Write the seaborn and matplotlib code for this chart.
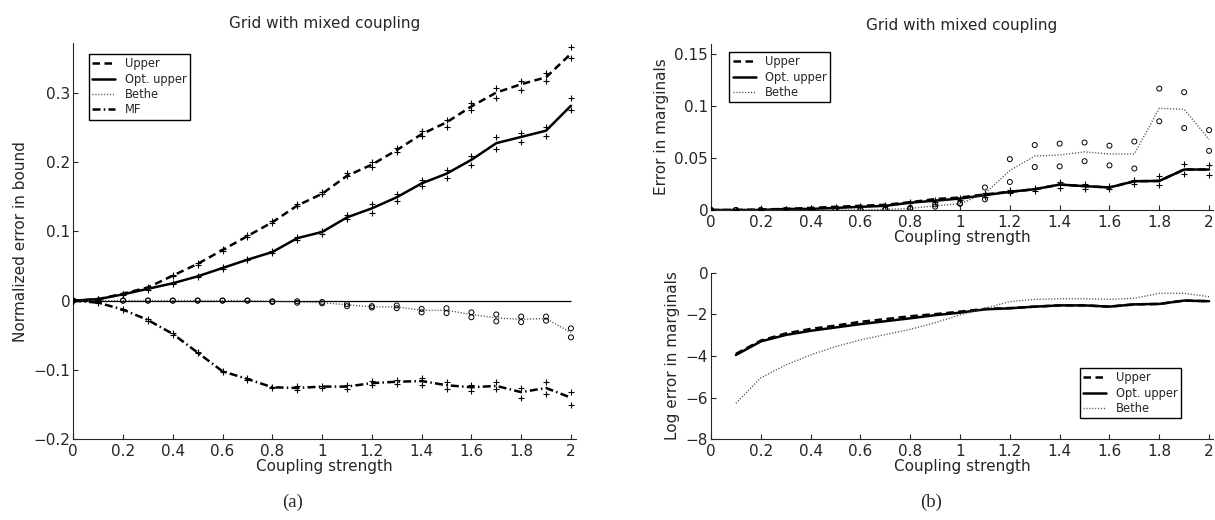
import matplotlib
matplotlib.use("Agg")
import matplotlib.pyplot as plt
import seaborn as sns

# coupling strengths (x axis)
coupling = [0.0, 0.1, 0.2, 0.3, 0.4, 0.5, 0.6, 0.7, 0.8, 0.9, 1.0,
            1.1, 1.2, 1.3, 1.4, 1.5, 1.6, 1.7, 1.8, 1.9, 2.0]
xtick_labels = ["0", "0.2", "0.4", "0.6", "0.8", "1", "1.2", "1.4", "1.6", "1.8", "2"]

# (a) normalized error in bound: line value + two runs (markers)
upper_line = [0, 0.002, 0.010, 0.019, 0.036, 0.053, 0.073, 0.093, 0.113, 0.137, 0.154,
              0.180, 0.196, 0.217, 0.240, 0.257, 0.280, 0.300, 0.312, 0.322, 0.356]
upper_hi = [0, 0.002, 0.010, 0.020, 0.037, 0.054, 0.074, 0.095, 0.115, 0.139, 0.156,
            0.184, 0.200, 0.220, 0.244, 0.260, 0.285, 0.307, 0.316, 0.328, 0.366]
upper_lo = [0, 0.001, 0.009, 0.018, 0.035, 0.052, 0.072, 0.092, 0.112, 0.136, 0.153,
            0.179, 0.192, 0.214, 0.237, 0.251, 0.275, 0.292, 0.304, 0.316, 0.350]

opt_line = [0, 0.002, 0.009, 0.017, 0.025, 0.035, 0.047, 0.059, 0.070, 0.090, 0.099,
            0.120, 0.133, 0.149, 0.169, 0.183, 0.203, 0.227, 0.236, 0.245, 0.281]
opt_hi = [0, 0.003, 0.010, 0.018, 0.026, 0.036, 0.048, 0.060, 0.072, 0.092, 0.101,
          0.123, 0.139, 0.153, 0.174, 0.188, 0.208, 0.236, 0.241, 0.251, 0.292]
opt_lo = [0, 0.001, 0.008, 0.016, 0.024, 0.034, 0.046, 0.058, 0.069, 0.088, 0.096,
          0.118, 0.127, 0.144, 0.165, 0.177, 0.196, 0.219, 0.228, 0.237, 0.275]

bethe_line = [0, 0, 0, 0, 0, 0, 0, 0, -0.001, -0.002, -0.003,
              -0.006, -0.009, -0.009, -0.014, -0.014, -0.020, -0.025, -0.027, -0.026, -0.046]
bethe_hi = [0, 0, 0, 0, 0, 0, 0, 0, -0.001, -0.001, -0.002,
            -0.005, -0.008, -0.007, -0.012, -0.011, -0.017, -0.020, -0.023, -0.023, -0.040]
bethe_lo = [0, 0, 0, 0, 0, 0, 0, 0, -0.002, -0.003, -0.004,
            -0.008, -0.010, -0.011, -0.017, -0.018, -0.024, -0.030, -0.031, -0.029, -0.053]

mf_line = [0, -0.003, -0.013, -0.028, -0.048, -0.075, -0.102, -0.113, -0.125, -0.126, -0.124,
           -0.124, -0.119, -0.117, -0.116, -0.122, -0.125, -0.123, -0.132, -0.126, -0.140]
mf_hi = [0, -0.002, -0.012, -0.027, -0.047, -0.074, -0.101, -0.112, -0.124, -0.123, -0.123,
         -0.122, -0.116, -0.115, -0.112, -0.118, -0.122, -0.118, -0.126, -0.118, -0.132]
mf_lo = [0, -0.004, -0.014, -0.029, -0.049, -0.076, -0.103, -0.115, -0.126, -0.129, -0.126,
         -0.127, -0.122, -0.120, -0.121, -0.127, -0.131, -0.128, -0.140, -0.134, -0.150]

# (b) top: error in marginals
marg_upper = [0, 0, 0.0005, 0.001, 0.002, 0.003, 0.004, 0.005, 0.0075, 0.0105, 0.012,
              0.015, 0.0175, 0.020, 0.0245, 0.023, 0.0217, 0.0277, 0.028, 0.039, 0.039]
marg_opt = [0, 0, 0, 0.001, 0.001, 0.002, 0.003, 0.004, 0.007, 0.009, 0.011,
            0.0143, 0.0175, 0.020, 0.0245, 0.023, 0.0217, 0.0277, 0.028, 0.039, 0.039]
marg_opt_hi = [0, 0, 0.0005, 0.001, 0.0015, 0.0025, 0.0035, 0.005, 0.008, 0.010, 0.012,
               0.0166, 0.019, 0.021, 0.027, 0.025, 0.023, 0.029, 0.0328, 0.044, 0.043]
marg_opt_lo = [0, 0, 0, 0.0005, 0.001, 0.0015, 0.0025, 0.0035, 0.0064, 0.008, 0.010,
               0.0127, 0.016, 0.018, 0.0214, 0.0207, 0.0198, 0.025, 0.0239, 0.0344, 0.034]
marg_bethe = [0, 0, 0, 0, 0, 0, 0, 0.0005, 0.0015, 0.004, 0.006,
              0.016, 0.038, 0.052, 0.053, 0.056, 0.054, 0.054, 0.098, 0.097, 0.068]
marg_bethe_hi = [0, 0, 0, 0, 0, 0, 0, 0.0008, 0.002, 0.0054, 0.0065,
                 0.0217, 0.049, 0.0626, 0.064, 0.065, 0.062, 0.066, 0.117, 0.1135, 0.077]
marg_bethe_lo = [0, 0, 0, 0, 0, 0, 0, 0.0003, 0.001, 0.0032, 0.006,
                 0.0102, 0.027, 0.0414, 0.042, 0.047, 0.043, 0.040, 0.0855, 0.079, 0.057]

# (b) bottom: log error in marginals (starts at 0.1)
log_coupling = coupling[1:]
log_upper = [-3.90, -3.26, -2.92, -2.70, -2.54, -2.36, -2.23, -2.09, -1.99, -1.87,
             -1.74, -1.70, -1.63, -1.57, -1.57, -1.63, -1.52, -1.50, -1.34, -1.37]
log_opt = [-3.95, -3.30, -2.99, -2.79, -2.63, -2.47, -2.33, -2.19, -2.04, -1.92,
           -1.76, -1.71, -1.63, -1.57, -1.57, -1.63, -1.52, -1.50, -1.34, -1.37]
log_bethe = [-6.27, -5.05, -4.43, -3.95, -3.55, -3.23, -2.97, -2.72, -2.40, -2.03,
             -1.71, -1.39, -1.28, -1.25, -1.25, -1.28, -1.23, -0.99, -0.99, -1.15]

sns.set_style("ticks")
plt.rcParams["font.family"] = ["DejaVu Sans"]
plt.rcParams["axes.linewidth"] = 0.8

DASHED = dict(color="black", lw=1.8, linestyle=(0, (3.0, 1.8)))
SOLID = dict(color="black", lw=1.8, linestyle="-")
DOTTED = dict(color="0.3", lw=1.0, linestyle=(0, (0.8, 1.3)))
DASHDOT = dict(color="black", lw=1.8, linestyle=(0, (3.2, 1.3, 0.6, 1.3)))

fig = plt.figure(figsize=(12.15, 5.2), dpi=100)
ax_a = fig.add_axes([0.0603, 0.1552, 0.4137, 0.7615])
ax_top = fig.add_axes([0.5852, 0.5962, 0.4132, 0.3192])
ax_log = fig.add_axes([0.5852, 0.1552, 0.4132, 0.3204])


def line(ax, x, y, style, label=None):
    sns.lineplot(x=x, y=y, ax=ax, estimator=None, label=label, **style)


def plus(ax, y):
    sns.scatterplot(x=coupling, y=y, ax=ax, marker="+", s=18, color="black",
                    linewidth=0.8, zorder=4)


def circ(ax, y):
    sns.scatterplot(x=coupling, y=y, ax=ax, marker="o", s=13, color="black",
                    facecolors="none", edgecolor="black", linewidth=0.7, zorder=4)


def finish(ax, xmax, ylim, yticks, ylabels, ylabel):
    ax.set_xlim(0, xmax)
    ax.set_ylim(*ylim)
    ax.set_xticks(coupling[::2])
    ax.set_xticklabels(xtick_labels)
    ax.set_yticks(yticks)
    ax.set_yticklabels(ylabels)
    sns.despine(ax=ax)
    ax.tick_params(direction="in", length=3.5, width=0.8, labelsize=11)
    ax.tick_params(axis="x", pad=3.5)
    ax.tick_params(axis="y", pad=2)
    ax.set_xlabel("Coupling strength", fontsize=11, labelpad=0)
    ax.set_ylabel(ylabel, fontsize=11)


def legend(ax, loc, anchor):
    ax.legend(loc=loc, bbox_to_anchor=anchor, borderaxespad=0, fontsize=8.3,
              frameon=True, fancybox=False, framealpha=1, edgecolor="black",
              handlelength=2.0, handletextpad=0.8, labelspacing=0.2,
              borderpad=0.3).get_frame().set_linewidth(1.0)


# (a)
ax_a.hlines(0, coupling[0], coupling[-1], color="black", lw=0.9)
line(ax_a, coupling, upper_line, DASHED, "Upper")
line(ax_a, coupling, opt_line, SOLID, "Opt. upper")
line(ax_a, coupling, bethe_line, DOTTED, "Bethe")
line(ax_a, coupling, mf_line, DASHDOT, "MF")
for arr in (upper_hi, upper_lo, opt_hi, opt_lo, mf_hi, mf_lo):
    plus(ax_a, arr)
for arr in (bethe_hi, bethe_lo):
    circ(ax_a, arr)
finish(ax_a, 2.02, (-0.2, 0.371), [-0.2, -0.1, 0, 0.1, 0.2, 0.3],
       ["\u22120.2", "\u22120.1", "0", "0.1", "0.2", "0.3"], "Normalized error in bound")
ax_a.set_title("Grid with mixed coupling", fontsize=11, pad=11)
legend(ax_a, "upper left", (0.031, 0.973))

# (b) top
line(ax_top, coupling, marg_upper, DASHED, "Upper")
line(ax_top, coupling, marg_opt, SOLID, "Opt. upper")
line(ax_top, coupling, marg_bethe, DOTTED, "Bethe")
for arr in (marg_opt_hi, marg_opt_lo):
    plus(ax_top, arr)
for arr in (marg_bethe_hi, marg_bethe_lo):
    circ(ax_top, arr)
finish(ax_top, 2.016, (0, 0.16), [0, 0.05, 0.1, 0.15],
       ["0", "0.05", "0.1", "0.15"], "Error in marginals")
ax_top.set_title("Grid with mixed coupling", fontsize=11, pad=10)
legend(ax_top, "upper left", (0.036, 0.952))

# (b) bottom
line(ax_log, log_coupling, log_upper, DASHED, "Upper")
line(ax_log, log_coupling, log_opt, SOLID, "Opt. upper")
line(ax_log, log_coupling, log_bethe, DOTTED, "Bethe")
finish(ax_log, 2.016, (-8, 0), [-8, -6, -4, -2, 0],
       ["\u22128", "\u22126", "\u22124", "\u22122", "0"], "Log error in marginals")
legend(ax_log, "lower right", (0.936, 0.126))

fig.text(293 / 1215, 1 - 502 / 520, "(a)", family="Liberation Serif", fontsize=13.5,
         ha="center", va="center")
fig.text(931 / 1215, 1 - 502 / 520, "(b)", family="Liberation Serif", fontsize=13.5,
         ha="center", va="center")

fig.savefig("out.png", dpi=100)
